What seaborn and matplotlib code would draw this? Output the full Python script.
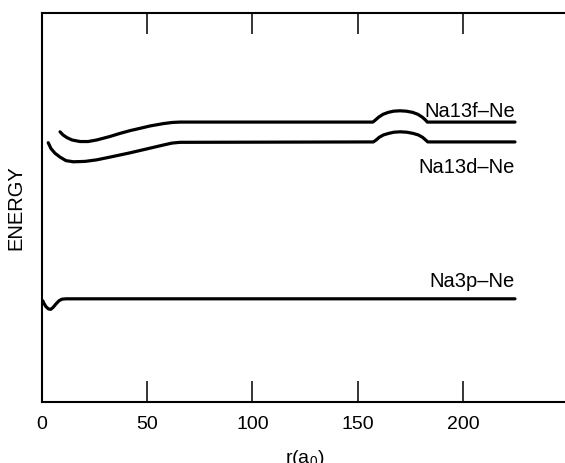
import numpy as np
import pandas as pd
import matplotlib
matplotlib.use('Agg')
import matplotlib.pyplot as plt
import seaborn as sns

# Potential curves (energy in arbitrary units)
r_13f = [8.7, 10.1, 12.0, 14.4, 18.2, 22.0, 26.1, 32.4, 37.2, 41.9, 46.7, 51.4, 57.6, 61.9, 65.6,
         157.2, 158.5, 160.0, 162.0, 164.5, 167.0, 170.0, 173.0, 176.0, 178.5, 180.5, 182.0, 183.0, 224.6]
e_13f = [6.94, 6.86, 6.79, 6.73, 6.69, 6.69, 6.73, 6.82, 6.90, 6.97, 7.03, 7.09, 7.15, 7.18, 7.19,
         7.19, 7.25, 7.32, 7.39, 7.44, 7.47, 7.48, 7.47, 7.44, 7.39, 7.32, 7.25, 7.19, 7.19]

r_13d = [3.1, 4.4, 6.3, 8.7, 11.5, 15.0, 20.6, 26.1, 32.4, 41.9, 51.4, 57.7, 61.8, 65.6,
         157.4, 158.7, 160.2, 162.2, 164.7, 167.2, 170.2, 173.2, 176.2, 178.7, 180.7, 182.2, 183.2, 224.6]
e_13d = [6.66, 6.51, 6.39, 6.29, 6.20, 6.17, 6.18, 6.22, 6.29, 6.40, 6.52, 6.60, 6.65, 6.67,
         6.68, 6.73, 6.80, 6.86, 6.90, 6.93, 6.94, 6.93, 6.90, 6.86, 6.80, 6.73, 6.68, 6.68]

r_3p = [0.5, 1.1, 2.0, 3.2, 4.3, 5.4, 6.8, 8.2, 9.6, 11.5, 224.6]
e_3p = [2.60, 2.53, 2.45, 2.39, 2.38, 2.43, 2.52, 2.60, 2.64, 2.65, 2.65]

curve_names = ['Na13f\u2013Ne', 'Na13d\u2013Ne', 'Na3p\u2013Ne']
label_r = [224.6, 224.6, 224.6]
label_e = [7.33, 5.88, 2.95]

xticks = [0, 50, 100, 150, 200]

sns.set_style('white')
plt.rcParams['font.family'] = ['Liberation Sans', 'DejaVu Sans']
plt.rcParams['mathtext.fontset'] = 'custom'
plt.rcParams['mathtext.rm'] = 'Liberation Sans'
plt.rcParams['text.color'] = 'black'
plt.rcParams['axes.labelcolor'] = 'black'
plt.rcParams['xtick.color'] = 'black'

fig = plt.figure(figsize=(5.65, 4.63), dpi=100)
ax = fig.add_axes([0.0738, 0.1318, 0.9324, 0.8408])

for r, e in [(r_13f, e_13f), (r_13d, e_13d), (r_3p, e_3p)]:
    df = pd.DataFrame({'r': r, 'E': e})
    sns.lineplot(data=df, x='r', y='E', sort=False, estimator=None,
                 color='black', linewidth=2.3, ax=ax)

for name, xr, ye in zip(curve_names, label_r, label_e):
    ax.text(xr, ye, name, ha='right', va='baseline', fontsize=14.5, color='black')

ax.set_xlim(0, 250)
ax.set_ylim(0, 10)
ax.set_xticks(xticks)
ax.set_yticks([])
ax.tick_params(axis='x', direction='in', top=True, bottom=True, length=15, width=1.1,
               labelsize=14, pad=10, color='black', labelcolor='black')

for side in ['left', 'top', 'bottom']:
    ax.spines[side].set_linewidth(1.5)
    ax.spines[side].set_color('black')
ax.spines['right'].set_visible(False)

ax.set_xlabel(r'r(a$_\mathregular{0}$)', fontsize=14, labelpad=11)
ax.set_ylabel('ENERGY', fontsize=14.5, labelpad=12)

fig.savefig('out.png', dpi=100)
